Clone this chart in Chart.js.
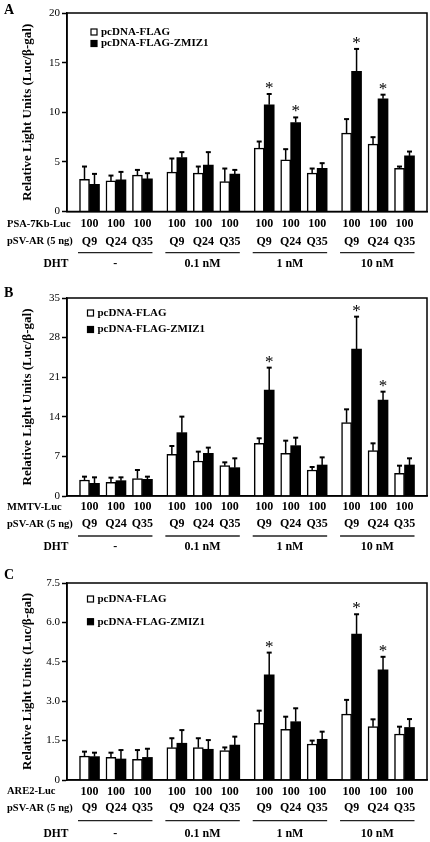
<!DOCTYPE html>
<html>
<head>
<meta charset="utf-8">
<script src="https://cdn.jsdelivr.net/npm/chart.js@4.4.1/dist/chart.umd.min.js"></script>
<style>
  html, body { margin: 0; padding: 0; background: #fff; }
  canvas { display: block; }
</style>
</head>
<body>
<canvas id="chartA" width="430" height="280"></canvas>
<canvas id="chartB" width="430" height="280"></canvas>
<canvas id="chartC" width="430" height="282"></canvas>
<script>
// shared labels
const seriesNames = ['pcDNA-FLAG', 'pcDNA-FLAG-ZMIZ1'];
const dhtLabels = ['-', '0.1 nM', '1 nM', '10 nM'];
const arLabels = ['Q9', 'Q24', 'Q35', 'Q9', 'Q24', 'Q35', 'Q9', 'Q24', 'Q35', 'Q9', 'Q24', 'Q35'];
const reporterAmounts = ['100', '100', '100', '100', '100', '100', '100', '100', '100', '100', '100', '100'];
const arRowLabel = 'pSV-AR (5 ng)';
const dhtRowLabel = 'DHT';
const yTitle = 'Relative Light Units (Luc/\u03b2-gal)';

// panel A: PSA-7Kb-Luc
const reporterA = 'PSA-7Kb-Luc';
const flagA = [3.25, 3.08, 3.66, 3.96, 3.86, 3.01, 6.38, 5.2, 3.86, 7.9, 6.79, 4.36];
const flagErrA = [1.28, 0.54, 0.53, 1.38, 0.67, 1.32, 0.67, 1.08, 0.47, 1.41, 0.7, 0.17];
const zmizA = [2.75, 3.18, 3.28, 5.44, 4.67, 3.76, 10.76, 8.97, 4.36, 14.12, 11.36, 5.6];
const zmizErrA = [1.04, 0.81, 0.58, 0.54, 1.31, 0.43, 1.08, 0.51, 0.51, 2.26, 0.41, 0.44];
const starsA = [6, 7, 9, 10];
const yTicksA = [0, 5, 10, 15, 20];
const yTickLabelsA = ['0', '5', '10', '15', '20'];

// panel B: MMTV-Luc
const reporterB = 'MMTV-Luc';
const flagB = [2.83, 2.42, 3.07, 7.37, 6.19, 5.36, 9.31, 7.54, 4.6, 12.96, 8.02, 4.01];
const flagErrB = [0.59, 0.82, 1.53, 1.47, 1.65, 0.59, 0.89, 2.24, 0.53, 2.36, 1.29, 1.35];
const zmizB = [2.24, 2.71, 2.95, 11.2, 7.54, 5.01, 18.74, 8.9, 5.48, 25.98, 16.97, 5.48];
const zmizErrB = [1.06, 0.59, 0.47, 2.83, 1.01, 1.65, 3.95, 1.41, 1.35, 5.72, 1.47, 1.18];
const starsB = [6, 9, 10];
const yTicksB = [0, 7, 14, 21, 28, 35];
const yTickLabelsB = ['0', '7', '14', '21', '28', '35'];

// panel C: ARE2-Luc
const reporterC = 'ARE2-Luc';
const flagC = [0.91, 0.86, 0.79, 1.23, 1.23, 1.12, 2.16, 1.93, 1.37, 2.51, 2.03, 1.75];
const flagErrC = [0.17, 0.18, 0.35, 0.36, 0.36, 0.12, 0.48, 0.48, 0.13, 0.54, 0.28, 0.28];
const zmizC = [0.89, 0.8, 0.86, 1.4, 1.17, 1.33, 4.0, 2.22, 1.55, 5.56, 4.19, 2.0];
const zmizErrC = [0.15, 0.34, 0.33, 0.5, 0.35, 0.32, 0.85, 0.51, 0.29, 0.75, 0.5, 0.32];
const starsC = [6, 9, 10];
const yTicksC = [0, 1.5, 3, 4.5, 6, 7.5];
const yTickLabelsC = ['0', '1.5', '3.0', '4.5', '6.0', '7.5'];

Chart.defaults.font.family = '"Liberation Serif", serif';
Chart.defaults.color = '#000';

// 3 pairs per DHT group, wider gap between groups
function barPos(i) { return Math.floor(i / 3) * 3.3 + (i % 3); }

const panelDecor = {
  id: 'panelDecor',
  afterDatasetsDraw(chart, args, o) {
    const ctx = chart.ctx, y = chart.scales.y;
    ctx.save();
    ctx.strokeStyle = '#000';
    ctx.fillStyle = '#000';
    o.errs.forEach((errs, d) => {
      chart.getDatasetMeta(d).data.forEach((bar, i) => {
        const val = chart.data.datasets[d].data[i].y;
        const top = y.getPixelForValue(val + errs[i]);
        ctx.lineWidth = 1.5;
        ctx.beginPath(); ctx.moveTo(bar.x, bar.y); ctx.lineTo(bar.x, top); ctx.stroke();
        ctx.lineWidth = 2;
        ctx.beginPath(); ctx.moveTo(bar.x - 2.5, top); ctx.lineTo(bar.x + 2.5, top); ctx.stroke();
        if (d === 1 && o.stars.includes(i)) {
          ctx.font = '17px "Liberation Serif"';
          ctx.textAlign = 'center';
          ctx.textBaseline = 'alphabetic';
          ctx.fillText('*', bar.x, top - 1);
        }
      });
    });
    ctx.restore();
  },
  afterDraw(chart, args, o) {
    const ctx = chart.ctx, a = chart.chartArea, x = chart.scales.x;
    ctx.save();
    ctx.strokeStyle = '#000';
    ctx.lineWidth = 1.5;
    ctx.strokeRect(a.left, a.top, a.right - a.left, a.bottom - a.top);

    ctx.fillStyle = '#000';
    ctx.font = 'bold 14px "Liberation Serif"';
    ctx.textAlign = 'left';
    ctx.textBaseline = 'alphabetic';
    ctx.fillText(o.letter, 4, o.letterY);

    // legend inside the plot
    ctx.font = 'bold 11px "Liberation Serif"';
    ctx.textBaseline = 'middle';
    chart.data.datasets.forEach((ds, d) => {
      const ly = o.legendRows[d];
      ctx.fillStyle = ds.backgroundColor;
      ctx.fillRect(o.legendX, ly - 3, 6, 6);
      ctx.lineWidth = 1.2;
      ctx.strokeRect(o.legendX, ly - 3, 6, 6);
      ctx.fillStyle = '#000';
      ctx.fillText(ds.label, o.legendX + 10, ly);
    });

    // condition rows under the axis
    const r = o.rows.map(v => a.bottom + v);
    ctx.font = 'bold 10.5px "Liberation Serif"';
    ctx.textAlign = 'left';
    ctx.fillText(o.reporter, 7, r[0]);
    ctx.fillText(arRowLabel, 7, r[1]);
    ctx.font = 'bold 11.5px "Liberation Serif"';
    ctx.textAlign = 'center';
    ctx.fillText(dhtRowLabel, 56, r[3]);
    ctx.font = 'bold 12px "Liberation Serif"';
    reporterAmounts.forEach((t, i) => {
      const px = x.getPixelForValue(barPos(i));
      ctx.fillText(t, px, r[0]);
      ctx.fillText(arLabels[i], px, r[1]);
    });
    dhtLabels.forEach((t, c) => {
      const x0 = x.getPixelForValue(barPos(c * 3)) - 11.5;
      const x1 = x.getPixelForValue(barPos(c * 3 + 2)) + 10;
      ctx.beginPath();
      ctx.moveTo(x0, r[2]); ctx.lineTo(x1, r[2]);
      ctx.lineWidth = 1.3; ctx.strokeStyle = '#222';
      ctx.stroke();
      ctx.fillText(t, (x0 + x1) / 2, r[3]);
    });
    ctx.restore();
  }
};

function makePanel(id, p) {
  return new Chart(document.getElementById(id), {
    type: 'bar',
    data: {
      datasets: [
        {
          label: seriesNames[0],
          data: p.flag.map((v, i) => ({ x: barPos(i), y: v })),
          backgroundColor: '#fff',
          borderColor: '#000',
          borderWidth: 1.5,
          barThickness: 10
        },
        {
          label: seriesNames[1],
          data: p.zmiz.map((v, i) => ({ x: barPos(i), y: v })),
          backgroundColor: '#000',
          borderColor: '#000',
          borderWidth: 0,
          barThickness: 10
        }
      ]
    },
    options: {
      responsive: false,
      animation: false,
      devicePixelRatio: 1,
      layout: { padding: { top: p.top, right: 3, left: 0, bottom: 0 } },
      plugins: {
        legend: { display: false },
        tooltip: { enabled: false },
        panelDecor: {
          letter: p.letter, letterY: p.letterY, reporter: p.reporter,
          errs: [p.flagErr, p.zmizErr], stars: p.stars,
          legendX: p.legendX, legendRows: p.legendRows, rows: p.rows
        }
      },
      scales: {
        x: {
          type: 'linear', min: -0.85, max: 12.75, offset: false,
          afterFit: s => { s.height = p.bottom; },
          grid: { display: false },
          ticks: { display: false },
          border: { color: '#000', width: 1.5 }
        },
        y: {
          min: 0, max: p.ticks[p.ticks.length - 1],
          afterBuildTicks: s => { s.ticks = p.ticks.map(v => ({ value: v })); },
          afterFit: s => { s.width = 67; },
          border: { color: '#000', width: 1.5 },
          grid: { drawOnChartArea: false, tickLength: 5, tickColor: '#000', tickWidth: 1.5 },
          ticks: {
            padding: 2,
            font: { size: 11 },
            callback: v => p.tickLabels[p.ticks.indexOf(v)]
          },
          title: {
            display: true, text: yTitle,
            font: { size: 13, weight: 'bold' },
            padding: { top: 20, bottom: 0 }
          }
        }
      }
    },
    plugins: [panelDecor]
  });
}

makePanel('chartA', {
  letter: 'A', letterY: 14, reporter: reporterA,
  flag: flagA, flagErr: flagErrA, zmiz: zmizA, zmizErr: zmizErrA, stars: starsA,
  ticks: yTicksA, tickLabels: yTickLabelsA,
  top: 13, bottom: 68.5, legendX: 91, legendRows: [32, 43.5], rows: [12.8, 30.2, 41.2, 52.8]
});
makePanel('chartB', {
  letter: 'B', letterY: 17, reporter: reporterB,
  flag: flagB, flagErr: flagErrB, zmiz: zmizB, zmizErr: zmizErrB, stars: starsB,
  ticks: yTicksB, tickLabels: yTickLabelsB,
  top: 18, bottom: 64, legendX: 87.5, legendRows: [33, 49.5], rows: [11.3, 28, 40, 50.7]
});
makePanel('chartC', {
  letter: 'C', letterY: 19, reporter: reporterC,
  flag: flagC, flagErr: flagErrC, zmiz: zmizC, zmizErr: zmizErrC, stars: starsC,
  ticks: yTicksC, tickLabels: yTickLabelsC,
  top: 23, bottom: 62, legendX: 87.5, legendRows: [39, 61.7], rows: [11.7, 28.3, 40.7, 54]
});
</script>
</body>
</html>
